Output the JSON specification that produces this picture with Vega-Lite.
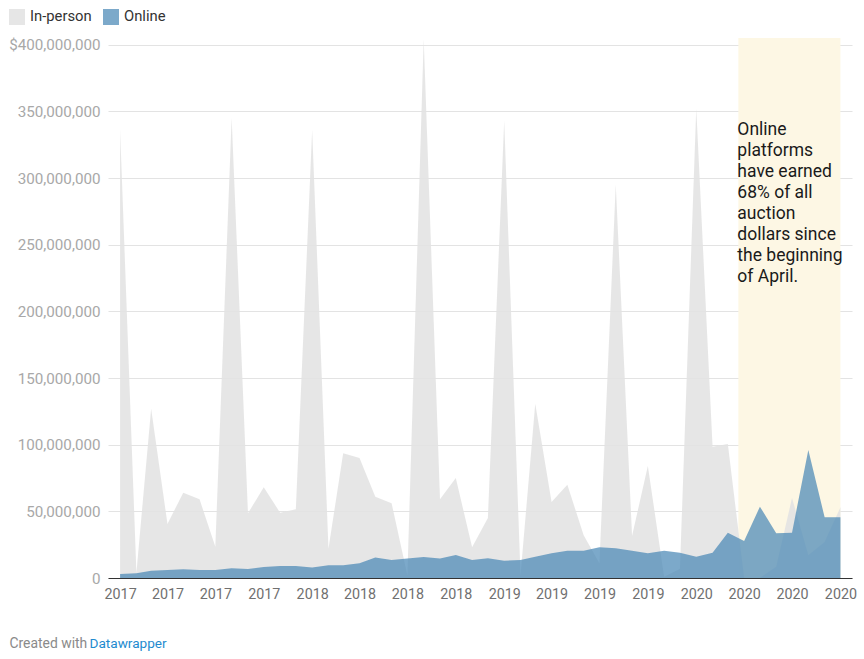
{
  "$schema": "https://vega.github.io/schema/vega-lite/v6.json",
  "autosize": {"type": "none"},
  "padding": {"left": 108, "top": 38, "right": 12, "bottom": 81},
  "width": 744,
  "height": 540,
  "config": {"font": "Roboto", "view": {"stroke": null}},
  "datasets": {
    "sales": [
      {"date": "2017-01-01", "type": "In-person", "value": 336000000},
      {"date": "2017-02-01", "type": "In-person", "value": 4000000},
      {"date": "2017-03-01", "type": "In-person", "value": 127000000},
      {"date": "2017-04-01", "type": "In-person", "value": 40500000},
      {"date": "2017-05-01", "type": "In-person", "value": 64000000},
      {"date": "2017-06-01", "type": "In-person", "value": 59000000},
      {"date": "2017-07-01", "type": "In-person", "value": 23500000},
      {"date": "2017-08-01", "type": "In-person", "value": 345000000},
      {"date": "2017-09-01", "type": "In-person", "value": 48500000},
      {"date": "2017-10-01", "type": "In-person", "value": 68000000},
      {"date": "2017-11-01", "type": "In-person", "value": 49000000},
      {"date": "2017-12-01", "type": "In-person", "value": 51500000},
      {"date": "2018-01-01", "type": "In-person", "value": 336000000},
      {"date": "2018-02-01", "type": "In-person", "value": 22000000},
      {"date": "2018-03-01", "type": "In-person", "value": 93600000},
      {"date": "2018-04-01", "type": "In-person", "value": 90000000},
      {"date": "2018-05-01", "type": "In-person", "value": 61000000},
      {"date": "2018-06-01", "type": "In-person", "value": 56000000},
      {"date": "2018-07-01", "type": "In-person", "value": 2000000},
      {"date": "2018-08-01", "type": "In-person", "value": 404000000},
      {"date": "2018-09-01", "type": "In-person", "value": 59000000},
      {"date": "2018-10-01", "type": "In-person", "value": 75000000},
      {"date": "2018-11-01", "type": "In-person", "value": 23000000},
      {"date": "2018-12-01", "type": "In-person", "value": 45000000},
      {"date": "2019-01-01", "type": "In-person", "value": 343000000},
      {"date": "2019-02-01", "type": "In-person", "value": 2000000},
      {"date": "2019-03-01", "type": "In-person", "value": 130600000},
      {"date": "2019-04-01", "type": "In-person", "value": 57000000},
      {"date": "2019-05-01", "type": "In-person", "value": 70000000},
      {"date": "2019-06-01", "type": "In-person", "value": 32000000},
      {"date": "2019-07-01", "type": "In-person", "value": 11000000},
      {"date": "2019-08-01", "type": "In-person", "value": 295000000},
      {"date": "2019-09-01", "type": "In-person", "value": 31500000},
      {"date": "2019-10-01", "type": "In-person", "value": 84000000},
      {"date": "2019-11-01", "type": "In-person", "value": 1000000},
      {"date": "2019-12-01", "type": "In-person", "value": 7000000},
      {"date": "2020-01-01", "type": "In-person", "value": 352000000},
      {"date": "2020-02-01", "type": "In-person", "value": 98500000},
      {"date": "2020-03-01", "type": "In-person", "value": 100500000},
      {"date": "2020-04-01", "type": "In-person", "value": 0},
      {"date": "2020-05-01", "type": "In-person", "value": 0},
      {"date": "2020-06-01", "type": "In-person", "value": 8500000},
      {"date": "2020-07-01", "type": "In-person", "value": 60000000},
      {"date": "2020-08-01", "type": "In-person", "value": 17000000},
      {"date": "2020-09-01", "type": "In-person", "value": 27000000},
      {"date": "2020-10-01", "type": "In-person", "value": 53000000},
      {"date": "2017-01-01", "type": "Online", "value": 3000000},
      {"date": "2017-02-01", "type": "Online", "value": 3500000},
      {"date": "2017-03-01", "type": "Online", "value": 5500000},
      {"date": "2017-04-01", "type": "Online", "value": 6000000},
      {"date": "2017-05-01", "type": "Online", "value": 6500000},
      {"date": "2017-06-01", "type": "Online", "value": 6000000},
      {"date": "2017-07-01", "type": "Online", "value": 6000000},
      {"date": "2017-08-01", "type": "Online", "value": 7300000},
      {"date": "2017-09-01", "type": "Online", "value": 6800000},
      {"date": "2017-10-01", "type": "Online", "value": 8300000},
      {"date": "2017-11-01", "type": "Online", "value": 9000000},
      {"date": "2017-12-01", "type": "Online", "value": 9000000},
      {"date": "2018-01-01", "type": "Online", "value": 7800000},
      {"date": "2018-02-01", "type": "Online", "value": 9500000},
      {"date": "2018-03-01", "type": "Online", "value": 9500000},
      {"date": "2018-04-01", "type": "Online", "value": 11000000},
      {"date": "2018-05-01", "type": "Online", "value": 15300000},
      {"date": "2018-06-01", "type": "Online", "value": 13500000},
      {"date": "2018-07-01", "type": "Online", "value": 14600000},
      {"date": "2018-08-01", "type": "Online", "value": 15800000},
      {"date": "2018-09-01", "type": "Online", "value": 14600000},
      {"date": "2018-10-01", "type": "Online", "value": 17300000},
      {"date": "2018-11-01", "type": "Online", "value": 13500000},
      {"date": "2018-12-01", "type": "Online", "value": 14800000},
      {"date": "2019-01-01", "type": "Online", "value": 13000000},
      {"date": "2019-02-01", "type": "Online", "value": 13500000},
      {"date": "2019-03-01", "type": "Online", "value": 16000000},
      {"date": "2019-04-01", "type": "Online", "value": 18500000},
      {"date": "2019-05-01", "type": "Online", "value": 20500000},
      {"date": "2019-06-01", "type": "Online", "value": 20500000},
      {"date": "2019-07-01", "type": "Online", "value": 23000000},
      {"date": "2019-08-01", "type": "Online", "value": 22300000},
      {"date": "2019-09-01", "type": "Online", "value": 20500000},
      {"date": "2019-10-01", "type": "Online", "value": 18500000},
      {"date": "2019-11-01", "type": "Online", "value": 20500000},
      {"date": "2019-12-01", "type": "Online", "value": 19000000},
      {"date": "2020-01-01", "type": "Online", "value": 16000000},
      {"date": "2020-02-01", "type": "Online", "value": 19000000},
      {"date": "2020-03-01", "type": "Online", "value": 34000000},
      {"date": "2020-04-01", "type": "Online", "value": 27800000},
      {"date": "2020-05-01", "type": "Online", "value": 53500000},
      {"date": "2020-06-01", "type": "Online", "value": 33500000},
      {"date": "2020-07-01", "type": "Online", "value": 34000000},
      {"date": "2020-08-01", "type": "Online", "value": 96000000},
      {"date": "2020-09-01", "type": "Online", "value": 45500000},
      {"date": "2020-10-01", "type": "Online", "value": 45500000}
    ],
    "highlight": [
      {"start": "2020-03-21", "end": "2020-10-01", "note": ["Online", "platforms", "have earned", "68% of all", "auction", "dollars since", "the beginning", "of April."]}
    ]
  },
  "layer": [
    {
      "data": {"name": "highlight"},
      "mark": {"type": "rect", "color": "#fdf7e4"},
      "encoding": {
        "x": {"field": "start", "type": "temporal"},
        "x2": {"field": "end"}
      }
    },
    {
      "data": {"name": "sales"},
      "mark": {"type": "area", "interpolate": "linear"},
      "encoding": {
        "x": {
          "field": "date",
          "type": "temporal",
          "scale": {"domain": [{"year": 2016, "month": 12, "date": 9}, {"year": 2020, "month": 10, "date": 23}]},
          "axis": {
            "tickCount": {"interval": "month", "step": 3},
            "format": "%Y",
            "grid": false,
            "ticks": false,
            "domain": true,
            "domainColor": "#333333",
            "domainWidth": 1.2,
            "labelColor": "#707070",
            "labelFontSize": 14.3,
            "labelPadding": 9,
            "labelFlush": false,
            "labelOverlap": false,
            "title": "Datawrapper",
            "titleX": -19,
            "titleY": 65,
            "titleAlign": "left",
            "titleAnchor": "start",
            "titleBaseline": "middle",
            "titleColor": "#1f8bcf",
            "titleFontSize": 13.6,
            "titleFontWeight": "normal"
          }
        },
        "y": {
          "field": "value",
          "type": "quantitative",
          "stack": null,
          "scale": {"domain": [0, 405000000], "nice": false, "zero": true},
          "axis": {
            "values": [0, 50000000, 100000000, 150000000, 200000000, 250000000, 300000000, 350000000, 400000000],
            "labelExpr": "datum.value == 400000000 ? '$' + format(datum.value, ',') : format(datum.value, ',')",
            "grid": true,
            "gridColor": "#e3e3e3",
            "gridWidth": 1,
            "domain": false,
            "ticks": false,
            "labelColor": "#a8a8a8",
            "labelFontSize": 15.2,
            "labelPadding": 8,
            "title": "Created with",
            "titleAngle": 0,
            "titleX": -99,
            "titleY": 605,
            "titleAlign": "left",
            "titleAnchor": "start",
            "titleBaseline": "middle",
            "titleColor": "#8a8a8a",
            "titleFontSize": 13.9,
            "titleFontWeight": "normal"
          }
        },
        "color": {
          "field": "type",
          "type": "nominal",
          "scale": {"domain": ["In-person", "Online"], "range": ["#e2e2e2", "#4a88b5"]},
          "legend": {
            "orient": "none",
            "legendX": -99,
            "legendY": -29,
            "direction": "horizontal",
            "title": null,
            "symbolType": "square",
            "symbolSize": 256,
            "symbolStrokeWidth": 0,
            "labelFontSize": 14.8,
            "labelColor": "#333333",
            "labelOffset": 5,
            "columnPadding": 11
          }
        },
        "opacity": {
          "field": "type",
          "type": "nominal",
          "scale": {"domain": ["In-person", "Online"], "range": [0.88, 0.72]},
          "legend": null
        }
      }
    },
    {
      "data": {"name": "highlight"},
      "mark": {"type": "text", "align": "left", "baseline": "top", "fontSize": 17.5, "lineHeight": 21, "color": "#1a1a1a", "dx": -1, "dy": 3},
      "encoding": {
        "x": {"field": "start", "type": "temporal"},
        "y": {"datum": 345000000, "type": "quantitative"},
        "text": {"field": "note"}
      }
    }
  ]
}
